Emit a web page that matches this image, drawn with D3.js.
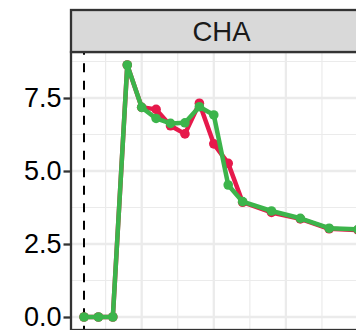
<!DOCTYPE html>
<html><head><meta charset="utf-8">
<script src="https://cdn.jsdelivr.net/npm/d3@7"></script>
<style>html,body{margin:0;padding:0;background:#fff;}svg{display:block;}</style>
</head><body>
<script>
const facet = "CHA";
const xValues = [1,2,3,4,5,6,7,8,9,10,11,12,14,16,18,20];
const redSeries = [0,0,0,8.63,7.18,7.11,6.55,6.27,7.32,5.93,5.26,3.93,3.58,3.36,3.02,2.98];
const greenSeries = [0,0,0,8.63,7.18,6.80,6.63,6.65,7.20,6.92,4.52,3.95,3.63,3.38,3.04,3.00];
const yTicks = [0, 2.5, 5, 7.5];
const yMinor = [1.25, 3.75, 6.25, 8.75];
const xMajor = [5, 10, 15, 20];
const xMinor = [2.5, 7.5, 12.5, 17.5];
const vlineX = 1;

const W = 356, H = 330;
const panel = {left: 71, right: 372, top: 52, bottom: 330};
const strip = {top: 10, bottom: 52};

const x = d3.scaleLinear().domain([1, 20]).range([84, 358]);
const y = d3.scaleLinear().domain([0, 7.5]).range([317, 98]);

const svg = d3.select("body").append("svg").attr("width", W).attr("height", H);

const g = svg.append("g");
// grid
g.selectAll(".hmin").data(yMinor).join("line")
  .attr("x1", panel.left).attr("x2", panel.right)
  .attr("y1", d => y(d)).attr("y2", d => y(d))
  .attr("stroke", "#EBEBEB").attr("stroke-width", 1.2);
g.selectAll(".vmin").data(xMinor).join("line")
  .attr("y1", panel.top).attr("y2", panel.bottom)
  .attr("x1", d => x(d)).attr("x2", d => x(d))
  .attr("stroke", "#EBEBEB").attr("stroke-width", 1.2);
g.selectAll(".hmaj").data(yTicks).join("line")
  .attr("x1", panel.left).attr("x2", panel.right)
  .attr("y1", d => y(d)).attr("y2", d => y(d))
  .attr("stroke", "#EBEBEB").attr("stroke-width", 2.3);
g.selectAll(".vmaj").data(xMajor).join("line")
  .attr("y1", panel.top).attr("y2", panel.bottom)
  .attr("x1", d => x(d)).attr("x2", d => x(d))
  .attr("stroke", "#EBEBEB").attr("stroke-width", 2.3);

// dashed vline
g.append("line")
  .attr("x1", x(vlineX)).attr("x2", x(vlineX))
  .attr("y1", panel.top).attr("y2", panel.bottom)
  .attr("stroke", "#000").attr("stroke-width", 2)
  .attr("stroke-dasharray", "9,8.5").attr("stroke-dashoffset", 6.2);

function drawSeries(vals, color) {
  const data = xValues.map((xv, i) => [xv, vals[i]]);
  const line = d3.line().x(d => x(d[0])).y(d => y(d[1]));
  g.append("path").datum(data).attr("d", line)
    .attr("fill", "none").attr("stroke", color).attr("stroke-width", 4.5)
    .attr("stroke-linejoin", "round").attr("stroke-linecap", "butt");
  g.append("g").selectAll("circle").data(data).join("circle")
    .attr("cx", d => x(d[0])).attr("cy", d => y(d[1])).attr("r", 4.8)
    .attr("fill", color);
}
drawSeries(redSeries, "#E6194B");
drawSeries(greenSeries, "#3CB44B");

// panel border
svg.append("rect")
  .attr("x", panel.left).attr("y", panel.top)
  .attr("width", panel.right - panel.left).attr("height", panel.bottom - panel.top)
  .attr("fill", "none").attr("stroke", "#333333").attr("stroke-width", 2.3);

// strip
svg.append("rect")
  .attr("x", panel.left).attr("y", strip.top)
  .attr("width", panel.right - panel.left).attr("height", strip.bottom - strip.top)
  .attr("fill", "#D9D9D9").attr("stroke", "#333333").attr("stroke-width", 2.3);
svg.append("text")
  .attr("x", (panel.left + panel.right) / 2).attr("y", 40.6)
  .attr("text-anchor", "middle")
  .attr("font-family", "Liberation Sans, Arial, sans-serif")
  .attr("font-size", 27.5).attr("fill", "#1A1A1A")
  .text(facet);

// y axis
const yAxis = svg.append("g").attr("transform", `translate(${panel.left - 1},0)`)
  .call(d3.axisLeft(y).tickValues(yTicks).tickFormat(d3.format(".1f")).tickSize(6.5).tickPadding(2));
yAxis.select(".domain").remove();
yAxis.selectAll(".tick line").attr("stroke", "#333333").attr("stroke-width", 2.3);
yAxis.selectAll(".tick text")
  .attr("font-family", "Liberation Sans, Arial, sans-serif")
  .attr("font-size", 27).attr("fill", "#000");
</script>
</body></html>
